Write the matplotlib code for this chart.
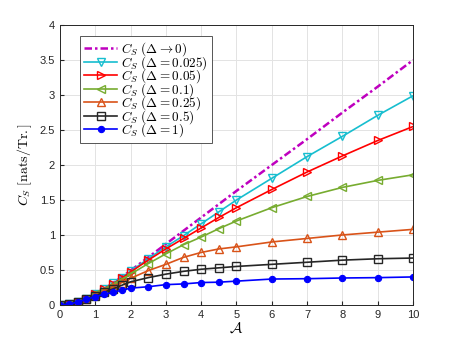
import matplotlib
matplotlib.use('Agg')
import matplotlib.pyplot as plt
from matplotlib.ticker import FuncFormatter

plt.rcParams['mathtext.fontset'] = 'cm'
plt.rcParams['font.family'] = ['Liberation Sans', 'DejaVu Sans']

# ── Data ──────────────────────────────────────────────────────────────
amp = [0, 0.25, 0.5, 0.75, 1, 1.25, 1.5, 1.75, 2, 2.5, 3, 3.5, 4, 4.5, 5,
       6, 7, 8, 9, 10]

cs_lim = [0, 0.01, 0.04, 0.09, 0.16, 0.23, 0.31, 0.40, 0.49, 0.68, 0.87,
          1.06, 1.25, 1.44, 1.63, 2.00, 2.37, 2.75, 3.12, 3.50]
cs_0025 = [0, 0.01, 0.04, 0.09, 0.16, 0.23, 0.31, 0.39, 0.48, 0.66, 0.83,
           0.99, 1.16, 1.33, 1.50, 1.81, 2.12, 2.41, 2.71, 2.99]
cs_005 = [0, 0.01, 0.04, 0.09, 0.16, 0.23, 0.30, 0.38, 0.47, 0.64, 0.80,
          0.95, 1.10, 1.25, 1.39, 1.65, 1.90, 2.13, 2.35, 2.55]
cs_01 = [0, 0.01, 0.04, 0.09, 0.15, 0.22, 0.29, 0.36, 0.44, 0.59, 0.73,
         0.86, 0.97, 1.09, 1.20, 1.39, 1.55, 1.68, 1.78, 1.86]
cs_025 = [0, 0.01, 0.04, 0.08, 0.14, 0.20, 0.26, 0.32, 0.38, 0.49, 0.58,
          0.68, 0.75, 0.80, 0.83, 0.90, 0.95, 1.00, 1.04, 1.08]
cs_05 = [0, 0.01, 0.04, 0.08, 0.13, 0.18, 0.23, 0.28, 0.33, 0.39, 0.44,
         0.48, 0.51, 0.53, 0.55, 0.58, 0.61, 0.64, 0.66, 0.67]
cs_1 = [0, 0.01, 0.04, 0.08, 0.12, 0.15, 0.18, 0.21, 0.24, 0.26, 0.29,
        0.30, 0.32, 0.325, 0.34, 0.37, 0.375, 0.385, 0.39, 0.40]

series = [
    (cs_0025, r'$C_S\ (\Delta = 0.025)$', '#17BECF', 'v'),
    (cs_005,  r'$C_S\ (\Delta = 0.05)$',  '#FF0000', '>'),
    (cs_01,   r'$C_S\ (\Delta = 0.1)$',   '#77AC30', '<'),
    (cs_025,  r'$C_S\ (\Delta = 0.25)$',  '#D95319', '^'),
    (cs_05,   r'$C_S\ (\Delta = 0.5)$',   '#262626', 's'),
]

# ── Figure ────────────────────────────────────────────────────────────
fig = plt.figure(figsize=(4.57, 3.43), dpi=100)
ax = fig.add_axes([0.131, 0.111, 0.773, 0.816])

ax.plot(amp, cs_lim, linestyle=(0, (3, 1.2, 1, 1.2)), color='#BF00BF',
        linewidth=1.8, label=r'$C_S\ (\Delta \rightarrow 0)$')
for vals, lab, col, mk in series:
    ax.plot(amp, vals, color=col, linewidth=1.2, marker=mk, markersize=6,
            markerfacecolor='none', markeredgewidth=1.0, label=lab)
ax.plot(amp, cs_1, color='#0000FF', linewidth=1.2, marker='o', markersize=4.5,
        markerfacecolor='#0000FF', markeredgewidth=0.8,
        label=r'$C_S\ (\Delta = 1)$')

ax.set_xlim(0, 10)
ax.set_ylim(0, 4)
ax.set_xticks(range(0, 11))
ax.set_yticks([0, 0.5, 1, 1.5, 2, 2.5, 3, 3.5, 4])
ax.yaxis.set_major_formatter(FuncFormatter(lambda v, _: f'{v:g}'))
ax.tick_params(direction='in', labelsize=8, colors='#262626', length=3)
ax.grid(True, color='#e3e3e3', linewidth=0.7)
ax.set_axisbelow(True)
for s in ax.spines.values():
    s.set_color('#262626')
    s.set_linewidth(0.7)

ax.set_xlabel(r'$\mathcal{A}$', fontsize=11, labelpad=1)
ax.set_ylabel(r'$C_S\ [\mathrm{nats/Tr.}]$', fontsize=10, labelpad=4)

leg = ax.legend(loc='upper left', bbox_to_anchor=(0.058, 0.96), fontsize=9.5,
                handlelength=2.5, handletextpad=0.3, labelspacing=-0.32,
                borderpad=0.3, borderaxespad=0, fancybox=False, framealpha=1)
leg.get_frame().set_edgecolor('#555555')
leg.get_frame().set_linewidth(0.7)

plt.savefig('out.png', dpi=100)
plt.close()
